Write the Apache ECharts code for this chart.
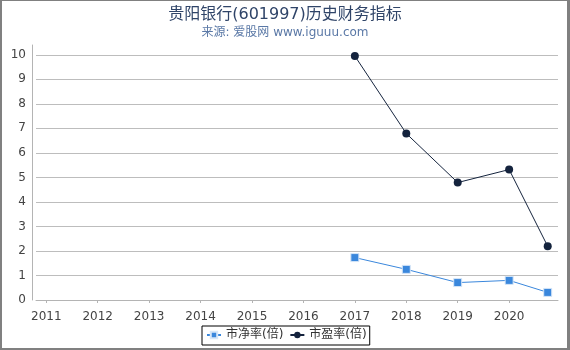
<!DOCTYPE html>
<html>
<head>
<meta charset="utf-8">
<script src="https://cdn.jsdelivr.net/npm/echarts@6/dist/echarts.min.js"></script>
<style>
  html, body { margin: 0; padding: 0; background: #fff; }
  #chart { width: 570px; height: 350px; }
</style>
</head>
<body>
<div id="chart"></div>
<script>
// 数据
var years = [2017, 2018, 2019, 2020, 2020.75];
var pbValues = [1.73, 1.25, 0.71, 0.80, 0.31];
var peValues = [9.95, 6.79, 4.79, 5.32, 2.19];
var xTickLabels = [2011, 2012, 2013, 2014, 2015, 2016, 2017, 2018, 2019, 2020];
var yTickLabels = [0, 1, 2, 3, 4, 5, 6, 7, 8, 9, 10];

var font = 'DejaVu Sans, Noto Sans CJK SC, sans-serif';

function pairs(xs, ys) {
    var out = [];
    for (var i = 0; i < xs.length; i++) out.push([xs[i], ys[i]]);
    return out;
}

var chart = echarts.init(document.getElementById('chart'));

chart.setOption({
    animation: false,
    textStyle: { fontFamily: font },
    title: {
        text: '贵阳银行(601997)历史财务指标',
        subtext: '来源: 爱股网 www.iguuu.com',
        left: 'center',
        top: 2,
        itemGap: 4,
        textStyle: { fontFamily: font, fontSize: 16, fontWeight: 'normal', color: '#2f4468' },
        subtextStyle: { fontFamily: font, fontSize: 12, color: '#5a78a6' }
    },
    // 边框
    graphic: [
        { type: 'rect', shape: { x: 0, y: 0, width: 2, height: 350 }, style: { fill: '#808080' } },
        { type: 'rect', shape: { x: 0, y: 0, width: 570, height: 1 }, style: { fill: '#808080' } },
        { type: 'rect', shape: { x: 567, y: 0, width: 3, height: 350 }, style: { fill: '#808080' } },
        { type: 'rect', shape: { x: 0, y: 348, width: 570, height: 2 }, style: { fill: '#808080' } }
    ],
    legend: {
        left: 202,
        top: 326,
        padding: [3, 3, 4, 4],
        borderColor: '#000',
        borderWidth: 1,
        borderRadius: 0,
        backgroundColor: '#fff',
        itemGap: 6,
        itemWidth: 14,
        itemHeight: 8,
        textStyle: { fontFamily: font, fontSize: 12, color: '#333' },
        data: ['市净率(倍)', '市盈率(倍)']
    },
    grid: { left: 36, right: 12, top: 45, bottom: 50, containLabel: false },
    xAxis: {
        type: 'value',
        min: 2010.8,
        max: 2020.95,
        offset: 4,
        axisLine: { show: true, lineStyle: { color: '#b4b4b4', width: 1 } },
        axisTick: { show: true, length: 3, customValues: xTickLabels, lineStyle: { color: '#b4b4b4' } },
        axisLabel: { customValues: xTickLabels, margin: 7, fontSize: 12, color: '#444', fontFamily: font,
            formatter: function (v) { return String(Math.round(v)); } },
        splitLine: { show: false }
    },
    yAxis: {
        type: 'value',
        min: 0,
        max: 10.4,
        offset: 4,
        axisLine: { show: true, lineStyle: { color: '#b4b4b4', width: 1 } },
        axisTick: { show: false, customValues: yTickLabels },
        axisLabel: { customValues: yTickLabels, margin: 6, fontSize: 12, color: '#444', fontFamily: font },
        splitLine: { show: true, lineStyle: { color: '#bdbdbd', width: 1 } }
    },
    series: [
        {
            name: '市净率(倍)',
            type: 'line',
            data: pairs(years, pbValues),
            symbol: 'rect',
            symbolSize: 8,
            color: '#3a87dc',
            lineStyle: { color: '#3a87dc', width: 1 },
            itemStyle: { color: '#3a87dc', borderColor: '#d6e6f8', borderWidth: 1 }
        },
        {
            name: '市盈率(倍)',
            type: 'line',
            data: pairs(years, peValues),
            symbol: 'circle',
            symbolSize: 8,
            color: '#14233d',
            lineStyle: { color: '#14233d', width: 1 },
            itemStyle: { color: '#14233d' }
        }
    ]
});
</script>
</body>
</html>
